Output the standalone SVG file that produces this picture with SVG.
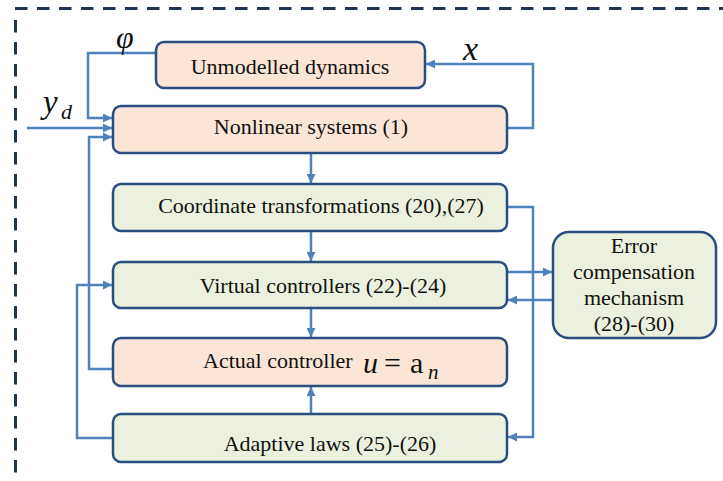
<svg xmlns="http://www.w3.org/2000/svg" width="723" height="481" viewBox="0 0 723 481">
<style>
.box{stroke:#2a4e80;stroke-width:2.5}
.peach{fill:#fbe5d6}
.green{fill:#ebf1de}
.t{font-family:"Liberation Serif","Times New Roman",serif;font-size:22px;fill:#111}
.m{font-family:"Liberation Serif","DejaVu Serif",serif;font-style:italic;fill:#111}
.r{font-family:"Liberation Serif","DejaVu Serif",serif;fill:#111}
.c{fill:none;stroke:#4f81bd;stroke-width:2.5}
.frame{fill:none;stroke:#1e3450;stroke-width:3;stroke-dasharray:12.5 9.5}
</style>
<defs>
<marker id="ah" markerWidth="10" markerHeight="9" refX="9" refY="4.5" orient="auto" markerUnits="userSpaceOnUse">
<path d="M0 0 L9 4.5 L0 9 Z" fill="#4f81bd"/>
</marker>
</defs>
<rect width="723" height="481" fill="#fff"/>
<path class="frame" d="M15 8.5 H723"/>
<path class="frame" d="M15.5 20 V481"/>

<g id="connectors">
<path class="c" marker-end="url(#ah)" d="M311 153 V183"/>
<path class="c" marker-end="url(#ah)" d="M311 231 V261"/>
<path class="c" marker-end="url(#ah)" d="M311 308 V337"/>
<path class="c" marker-end="url(#ah)" d="M311 414 V387"/>
<path class="c" marker-end="url(#ah)" d="M156 53 H88 V118 H112"/>
<path class="c" marker-end="url(#ah)" d="M27 128 H112"/>
<path class="c" marker-end="url(#ah)" d="M113 369 H89 V137 H112"/>
<path class="c" marker-end="url(#ah)" d="M113 438 H77 V285 H112"/>
<path class="c" marker-end="url(#ah)" d="M507 128 H533 V64 H426"/>
<path class="c" marker-end="url(#ah)" d="M507 207 H533 V437 H508"/>
<path class="c" marker-end="url(#ah)" d="M507 272 H552"/>
<path class="c" marker-end="url(#ah)" d="M553 300 H508"/>
</g>

<g id="unmodelled">
<rect class="box peach" x="156" y="42" width="269" height="46" rx="8"/>
<text class="t" x="290" y="74" text-anchor="middle">Unmodelled dynamics</text>
</g>
<g id="nonlinear">
<rect class="box peach" x="113" y="106" width="394" height="47" rx="8"/>
<text class="t" x="311" y="134" text-anchor="middle">Nonlinear systems (1)</text>
</g>
<g id="coordinate">
<rect class="box green" x="113" y="184" width="394" height="47" rx="8"/>
<text class="t" x="321" y="213" text-anchor="middle">Coordinate transformations (20),(27)</text>
</g>
<g id="virtual">
<rect class="box green" x="113" y="262" width="394" height="46" rx="8"/>
<text class="t" x="323" y="293" text-anchor="middle">Virtual controllers (22)-(24)</text>
</g>
<g id="actual">
<rect class="box peach" x="113" y="338" width="394" height="48" rx="8"/>
<text class="t" x="203" y="368">Actual controller</text>
<text class="m" x="363" y="373" style="font-size:30px">u</text>
<text class="r" x="384" y="373" style="font-size:30px">=</text>
<text class="r" x="410" y="373" style="font-size:30px">a</text>
<text class="m" x="428" y="379" style="font-size:21px">n</text>
</g>
<g id="adaptive">
<rect class="box green" x="113" y="414" width="394" height="48" rx="8"/>
<text class="t" x="330" y="451" text-anchor="middle">Adaptive laws (25)-(26)</text>
</g>
<g id="error">
<rect class="box green" x="553" y="232" width="163" height="106" rx="16"/>
<text class="t" x="634" y="253" text-anchor="middle">Error</text>
<text class="t" x="634" y="279" text-anchor="middle">compensation</text>
<text class="t" x="634" y="305" text-anchor="middle">mechanism</text>
<text class="t" x="634" y="331" text-anchor="middle">(28)-(30)</text>
</g>
<g id="labels">
<text class="m" x="116" y="48" style="font-size:32px">φ</text>
<text class="m" x="463" y="60" style="font-size:34px">x</text>
<text class="m" x="43" y="113" style="font-size:33px">y</text>
<text class="m" x="61" y="119" style="font-size:22px">d</text>
</g>
</svg>
